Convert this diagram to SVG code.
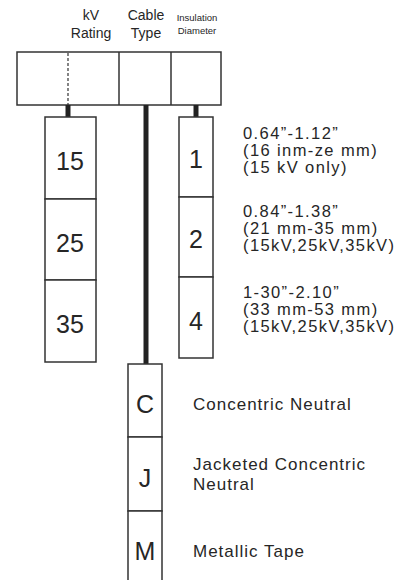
<svg xmlns="http://www.w3.org/2000/svg" width="399" height="580" viewBox="0 0 399 580">
<style>
text{font-family:"Liberation Sans",Arial,sans-serif;fill:#262626}
.box{fill:#fff;stroke:#333;stroke-width:1.5}
.hd{font-size:14px;text-anchor:middle}
.sm{font-size:9.5px;text-anchor:middle}
.num{font-size:25px;text-anchor:middle}
.rng{font-size:16.5px;letter-spacing:1.4px}
.lg{font-size:17px;letter-spacing:1px}
.bar{stroke:#222;stroke-width:5}
</style>
<rect width="399" height="580" fill="#fff"/>
<g id="headers">
<text class="hd" x="91" y="20">kV</text>
<text class="hd" x="91" y="38">Rating</text>
<text class="hd" x="146" y="20">Cable</text>
<text class="hd" x="146" y="38">Type</text>
<text class="sm" x="197" y="21">Insulation</text>
<text class="sm" x="197" y="34">Diameter</text>
</g>
<g id="code-box">
<rect class="box" x="17" y="52" width="204" height="53"/>
<line x1="119" y1="52" x2="119" y2="105" stroke="#333" stroke-width="1.5"/>
<line x1="171" y1="52" x2="171" y2="105" stroke="#333" stroke-width="1.5"/>
<line x1="68" y1="53" x2="68" y2="105" stroke="#333" stroke-width="1.2" stroke-dasharray="3,2"/>
</g>
<g id="connectors">
<line class="bar" x1="68" y1="105" x2="68" y2="117" stroke-width="4"/>
<line class="bar" x1="196" y1="105" x2="196" y2="117" stroke-width="4"/>
<line class="bar" x1="146" y1="105" x2="146" y2="364"/>
</g>
<g id="kv-rating">
<rect class="box" x="45" y="117" width="51" height="82"/>
<rect class="box" x="45" y="199" width="51" height="81"/>
<rect class="box" x="45" y="280" width="51" height="82"/>
<text class="num" x="70" y="170">15</text>
<text class="num" x="70" y="252">25</text>
<text class="num" x="70" y="333">35</text>
</g>
<g id="insulation">
<rect class="box" x="179" y="117" width="34" height="80"/>
<rect class="box" x="179" y="197" width="34" height="80"/>
<rect class="box" x="179" y="277" width="34" height="81"/>
<text class="num" x="196" y="168">1</text>
<text class="num" x="196" y="248">2</text>
<text class="num" x="196" y="330">4</text>
</g>
<g id="ranges">
<text class="rng" x="243"><tspan x="243" y="139">0.64”-1.12”</tspan><tspan x="243" y="156">(16 inm-ze mm)</tspan><tspan x="243" y="173">(15 kV only)</tspan></text>
<text class="rng" x="243"><tspan x="243" y="217">0.84”-1.38”</tspan><tspan x="243" y="234">(21 mm-35 mm)</tspan><tspan x="243" y="251">(15kV,25kV,35kV)</tspan></text>
<text class="rng" x="243"><tspan x="243" y="298">1-30”-2.10”</tspan><tspan x="243" y="315">(33 mm-53 mm)</tspan><tspan x="243" y="332">(15kV,25kV,35kV)</tspan></text>
</g>
<g id="cable-type">
<rect class="box" x="128" y="364" width="34" height="73"/>
<rect class="box" x="128" y="437" width="34" height="74"/>
<rect class="box" x="128" y="511" width="34" height="80"/>
<text class="num" x="145" y="413">C</text>
<text class="num" x="145" y="487">J</text>
<text class="num" x="145" y="560">M</text>
<text class="lg" x="193" y="410">Concentric Neutral</text>
<text class="lg" x="193" y="470">Jacketed Concentric</text>
<text class="lg" x="193" y="490">Neutral</text>
<text class="lg" x="193" y="557">Metallic Tape</text>
</g>
</svg>
